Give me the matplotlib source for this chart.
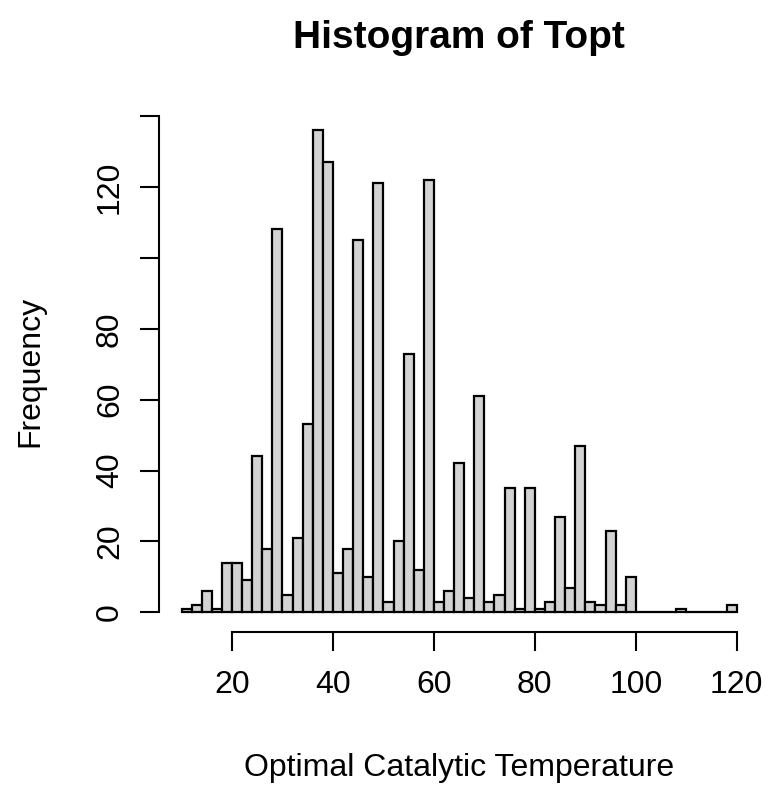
import matplotlib
matplotlib.use("Agg")
import matplotlib.pyplot as plt
import numpy as np

plt.rcParams['font.family'] = ['Liberation Sans', 'DejaVu Sans']

# Histogram data: bin edges (width 2, from 10 to 120) and counts
bin_edges = list(range(10, 122, 2))
counts = [1, 2, 6, 1, 14, 14, 9, 44, 18, 108,
          5, 21, 53, 136, 127, 11, 18, 105, 10, 121,
          3, 20, 73, 12, 122, 3, 6, 42, 4, 61,
          3, 5, 35, 1, 35, 1, 3, 27, 7, 47,
          3, 2, 23, 2, 10, 0, 0, 0, 0, 1,
          0, 0, 0, 0, 2]
x_ticks = [20, 40, 60, 80, 100, 120]
y_ticks = [0, 20, 40, 60, 80, 100, 120, 140]
y_tick_labels = ["0", "20", "40", "60", "80", "", "120", ""]

title = "Histogram of Topt"
xlabel = "Optimal Catalytic Temperature"
ylabel = "Frequency"

W, H = 766, 787
DPI = 100
fig = plt.figure(figsize=(W / DPI, H / DPI), dpi=DPI)

left_px, right_px = 159.3, 759.0
top_px, bottom_px = 110.9, 631.7
ax = fig.add_axes([left_px / W, 1 - bottom_px / H,
                   (right_px - left_px) / W, (bottom_px - top_px) / H])

edges = np.array(bin_edges, dtype=float)
widths = np.diff(edges)
ax.bar(edges[:-1], counts, width=widths, align='edge',
       color='#D3D3D3', edgecolor='black', linewidth=1.6)

xr = edges[-1] - edges[0]
ax.set_xlim(edges[0] - 0.04 * xr, edges[-1] + 0.04 * xr)
ymax = max(counts)
ax.set_ylim(-0.04 * ymax, ymax * 1.04)

for s in ['top', 'right']:
    ax.spines[s].set_visible(False)
for s in ['left', 'bottom']:
    ax.spines[s].set_linewidth(1.5)
ax.spines['bottom'].set_bounds(x_ticks[0], x_ticks[-1])
ax.spines['left'].set_bounds(y_ticks[0], y_ticks[-1])

ax.set_xticks(x_ticks)
ax.set_xticklabels([str(v) for v in x_ticks])
ax.set_yticks(y_ticks)
ax.set_yticklabels(y_tick_labels, rotation=90, va='center')

ax.tick_params(axis='both', length=13.7, width=1.5, labelsize=23, direction='out')
ax.tick_params(axis='x', pad=14)
ax.tick_params(axis='y', pad=11)

fig.text((left_px + right_px) / 2 / W, 1 - 38 / H, title,
         ha='center', va='center', fontsize=28, fontweight='bold')
fig.text((left_px + right_px) / 2 / W, 1 - 768 / H, xlabel,
         ha='center', va='center', fontsize=23)
fig.text(30 / W, 1 - ((top_px + bottom_px) / 2) / H, ylabel,
         ha='center', va='center', fontsize=23, rotation=90)

fig.savefig("out.png", dpi=DPI)
